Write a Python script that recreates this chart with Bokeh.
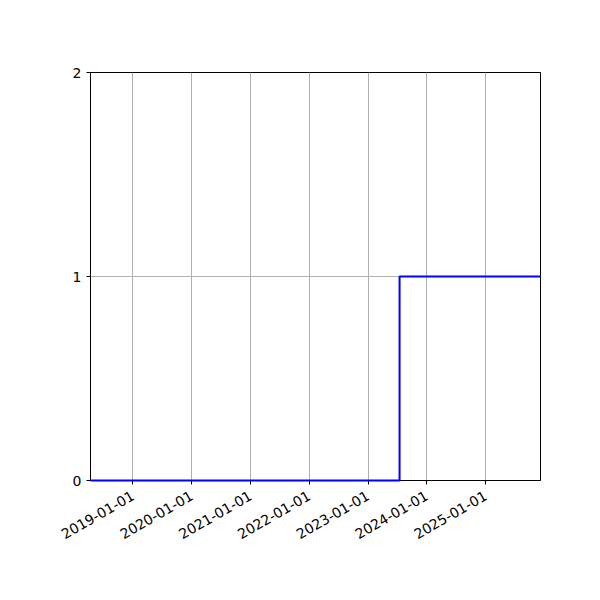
import math
from datetime import datetime

from bokeh.plotting import figure
from bokeh.models import FixedTicker, DatetimeTickFormatter, Range1d
from bokeh.embed import file_html
from bokeh.resources import INLINE

# data
dates = ["2018-04-12", "2023-07-16", "2025-12-08"]
values = [0, 1, 1]
year_ticks = ["2019-01-01", "2020-01-01", "2021-01-01", "2022-01-01",
              "2023-01-01", "2024-01-01", "2025-01-01"]
y_ticks = [0, 1, 2]


def to_dt(s):
    return datetime.strptime(s, "%Y-%m-%d")


def to_ms(s):
    return (to_dt(s) - datetime(1970, 1, 1)).total_seconds() * 1000.0


x = [to_dt(d) for d in dates]

p = figure(x_axis_type="datetime", width=584, height=584,
           frame_width=450, frame_height=408,
           min_border_left=90, min_border_right=44,
           min_border_top=72, min_border_bottom=104,
           output_backend="svg", toolbar_location=None)

p.x_range = Range1d(x[0], x[-1])
p.y_range = Range1d(0, 2)

r = p.step(x, values, mode="after", line_color="blue", line_width=2)
r.level = "overlay"

p.xaxis.ticker = FixedTicker(ticks=[to_ms(t) for t in year_ticks])
p.xaxis.formatter = DatetimeTickFormatter(years="%Y-%m-%d", months="%Y-%m-%d",
                                          days="%Y-%m-%d")
p.xaxis.major_label_orientation = math.pi / 6
p.xaxis.major_label_standoff = 10
p.yaxis.ticker = FixedTicker(ticks=y_ticks)

for ax in (p.xaxis, p.yaxis):
    ax.minor_tick_line_color = None
    ax.major_tick_in = 0
    ax.major_tick_out = 4
    ax.axis_line_color = "black"
    ax.major_tick_line_color = "black"
    ax.major_label_text_font = "DejaVu Sans"
    ax.major_label_text_font_size = "14px"
    ax.major_label_text_color = "black"

p.grid.grid_line_color = "#b0b0b0"
p.grid.grid_line_width = 1
p.outline_line_color = "black"
p.outline_line_alpha = 1
p.background_fill_color = "white"
p.border_fill_color = "white"

open("out.html", "w").write(file_html(p, INLINE))
